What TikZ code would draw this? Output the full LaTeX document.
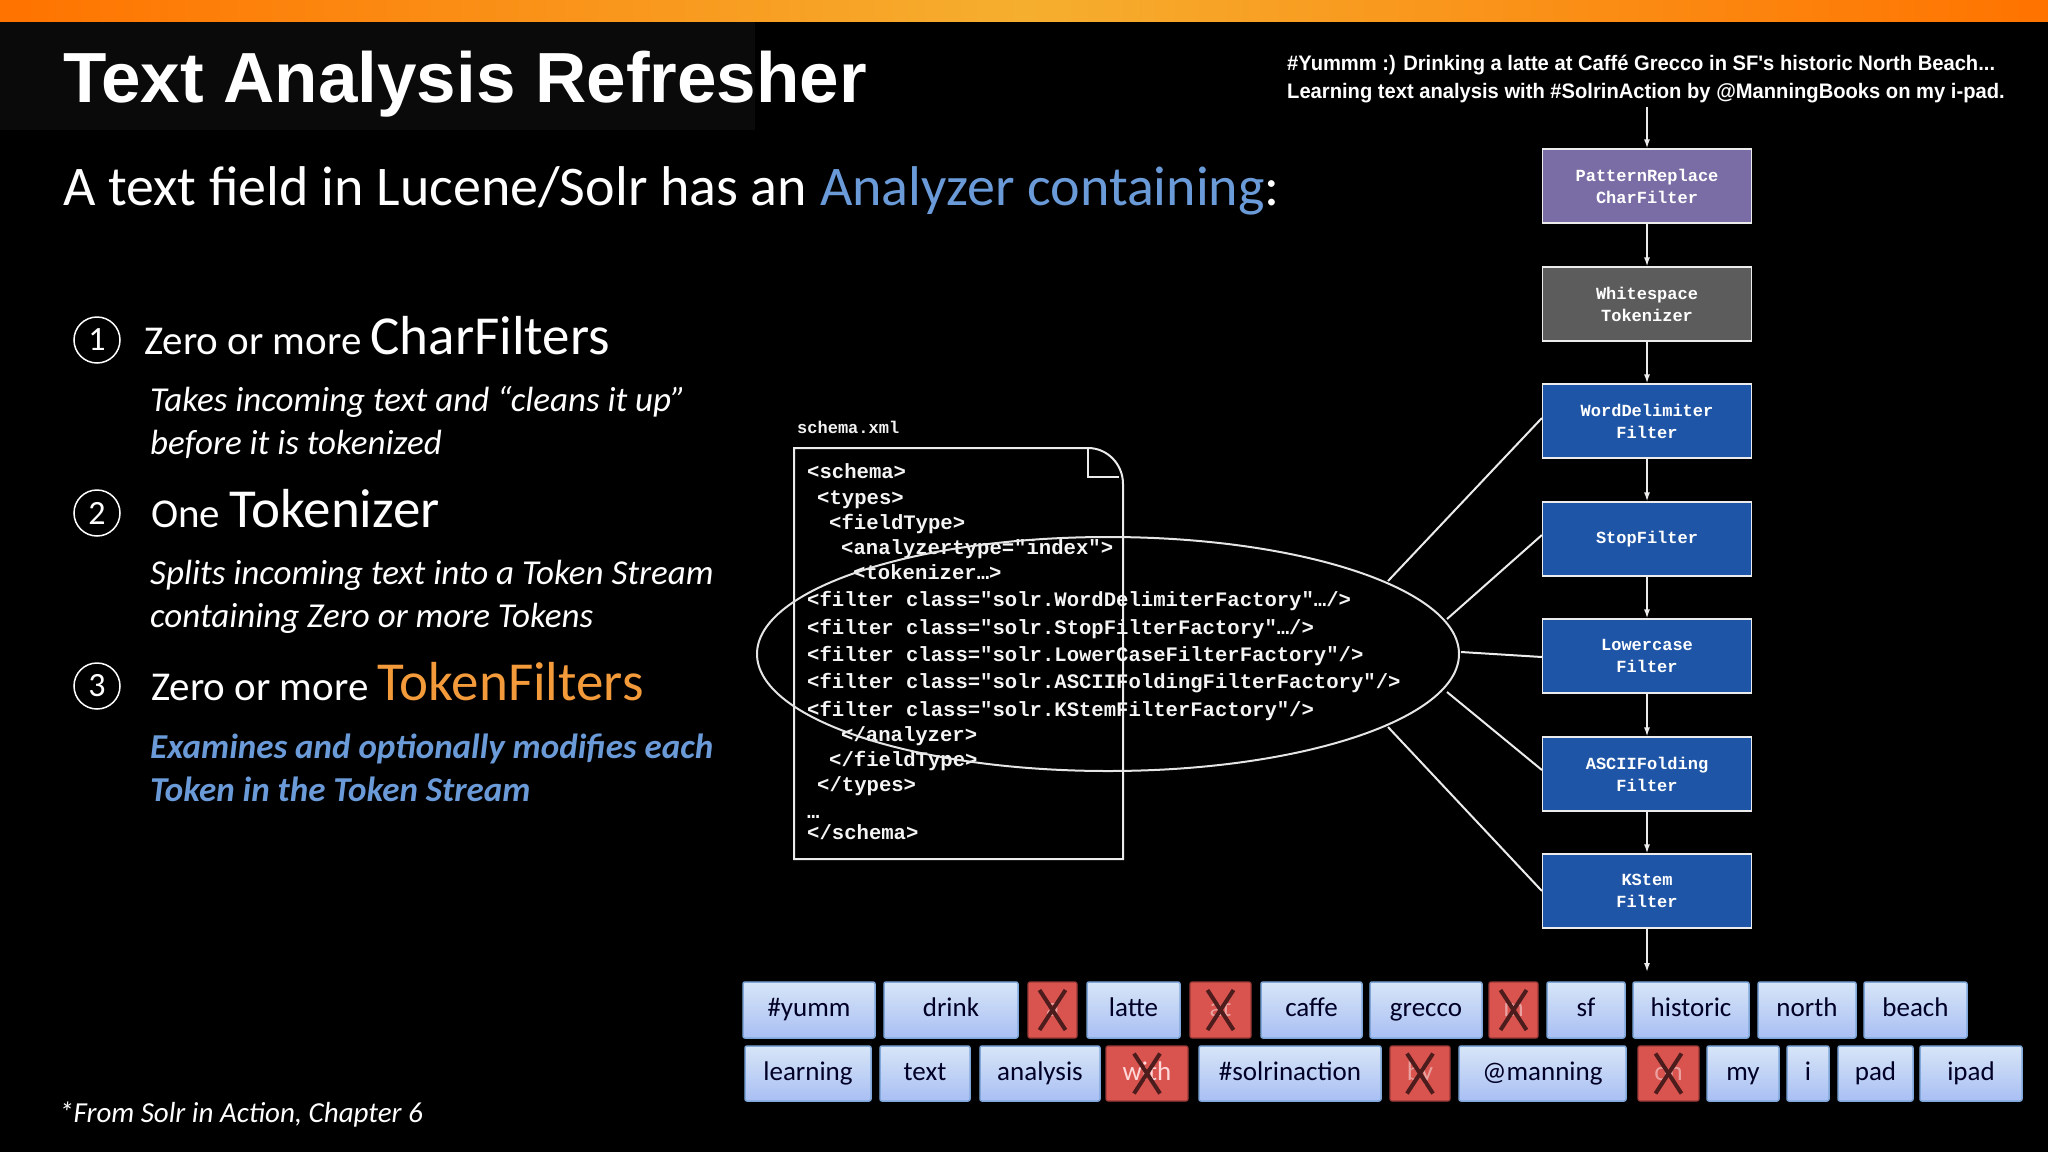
\documentclass[tikz,border=0pt]{standalone}
\usepackage{fontspec}
\setmainfont{Carlito}
\newfontfamily\titlefont{Liberation Sans}
\newfontfamily\codefont{Liberation Mono}
\usetikzlibrary{arrows.meta}
\definecolor{lblue}{HTML}{6A9BD8}
\definecolor{orng}{HTML}{F39A3A}
\definecolor{boxblue}{HTML}{1F55A6}
\definecolor{boxpurple}{HTML}{7A6CA4}
\definecolor{boxgray}{HTML}{5C5C5C}
\definecolor{tokfill}{HTML}{BCD4F2}
\definecolor{tokdraw}{HTML}{7FA7D9}
\definecolor{xred}{HTML}{D9534F}
\tikzset{
  stage/.style={draw=white!85!gray, line width=1.2pt, fill=boxblue, minimum width=209pt, minimum height=74pt, align=center, font=\codefont\bfseries\fontsize{17}{22}\selectfont, text=white},
  flow/.style={draw=white!85!gray, line width=1.5pt, -{Latex[length=9pt,width=6pt]}},
  tok/.style={draw=tokdraw, line width=1.5pt, top color=tokfill!60!white, bottom color=tokfill!90!blue, rounded corners=2pt, inner sep=0pt, text height=18pt, text depth=5pt, font=\fontsize{27}{30}\selectfont, text=black!85!blue},
  stop/.style={draw=xred!70!black, line width=1.2pt, fill=xred, rounded corners=2pt, inner sep=0pt, text height=18pt, text depth=5pt, font=\fontsize{27}{30}\selectfont, text=xred!55!white},
  code/.style={anchor=base west, inner sep=0pt, font=\codefont\bfseries\fontsize{20.6}{24}\selectfont, text=white!92!gray},
  circnum/.style={draw=white, line width=1.5pt, circle, minimum size=46pt, inner sep=0pt, font=\fontsize{34}{36}\selectfont, text=white},
  conn/.style={draw=white!85!gray, line width=2pt},
  head/.style={anchor=base west, inner sep=0pt, text=white, font=\fontsize{41}{44}\selectfont},
  desc/.style={anchor=base west, inner sep=0pt, text=white, align=left, font=\itshape\fontsize{35}{43}\selectfont},
}
\newcommand{\tk}[7]{\node[#1, minimum width=#3pt-#2pt, minimum height=#5pt-#4pt] (#6) at ({(#2+#3)/2},{(#4+#5)/2}) {#7};}
\newcommand{\bigw}{\fontsize{55}{58}\selectfont}
\begin{document}
\begin{tikzpicture}[x=1pt,y=-1pt]
\useasboundingbox (0,0) rectangle (2048,1152);
\fill[black] (0,0) rectangle (2048,1152);
\fill[black!96!white] (0,21) rectangle (755,130);
\shade[left color=orange!90!red, right color=orng!80!yellow] (0,0) rectangle (1024,21);
\shade[left color=orng!80!yellow, right color=orange!90!red] (1024,0) rectangle (2048,21);

% title
\node[anchor=base west, inner sep=0pt, text=white, font=\titlefont\bfseries\fontsize{71}{80}\selectfont] (title) at (63,102) {Text Analysis Refresher};
\node[anchor=base west, inner sep=0pt, text=white, font=\fontsize{56}{60}\selectfont] (sub) at (63,205) {A text field in Lucene/Solr has an \textcolor{lblue}{Analyzer containing}:};

% tweet
\node[anchor=base west, inner sep=0pt, text=white, align=left, font=\titlefont\bfseries\fontsize{21}{28}\selectfont, xscale=0.96, transform shape] (tweet) at (1287,98) {\#Yummm :) Drinking a latte at Caffé Grecco in SF's historic North Beach...\\Learning text analysis with \#SolrinAction by @ManningBooks on my i-pad.};

% items
\node[circnum] (c1) at (97,340) {1};
\node[head] (t1) at (144,354) {Zero or more {\bigw CharFilters}};
\node[desc] (d1) at (150,454) {Takes incoming text and “cleans it up”\\before it is tokenized};
\node[circnum] (c2) at (97,513) {2};
\node[head] (t2) at (151,527) {One {\bigw Tokenizer}};
\node[desc] (d2) at (150,627) {Splits incoming text into a Token Stream\\containing Zero or more Tokens};
\node[circnum] (c3) at (97,686) {3};
\node[head] (t3) at (151,700) {Zero or more \textcolor{orng}{\bigw TokenFilters}};
\node[desc, text=lblue, font=\bfseries\itshape\fontsize{35}{43}\selectfont] (d3) at (150,801) {Examines and optionally modifies each\\Token in the Token Stream};
\node[anchor=base west, inner sep=0pt, text=white, font=\itshape\fontsize{29}{32}\selectfont] (foot) at (59,1122) {*From Solr in Action, Chapter 6};

% pipeline
\coordinate (tw) at (1647,107);
\node[stage, fill=boxpurple] (b1) at (1647,186) {PatternReplace\\CharFilter};
\node[stage, fill=boxgray] (b2) at (1647,304) {Whitespace\\Tokenizer};
\node[stage] (b3) at (1647,421) {WordDelimiter\\Filter};
\node[stage] (b4) at (1647,539) {StopFilter};
\node[stage] (b5) at (1647,656) {Lowercase\\Filter};
\node[stage] (b6) at (1647,774) {ASCIIFolding\\Filter};
\node[stage] (b7) at (1647,891) {KStem\\Filter};
\coordinate (out) at (1647,972);
\draw[flow] (tw) -- (b1);
\draw[flow] (b1) -- (b2);
\draw[flow] (b2) -- (b3);
\draw[flow] (b3) -- (b4);
\draw[flow] (b4) -- (b5);
\draw[flow] (b5) -- (b6);
\draw[flow] (b6) -- (b7);
\draw[flow] (b7) -- (out);

% schema doc
\node[anchor=base west, inner sep=0pt, font=\codefont\bfseries\fontsize{17}{20}\selectfont, text=white!90!gray] (sx) at (797,433) {schema.xml};
\draw[white!85!gray, line width=2pt] (1123,633) -- (1123,859) -- (794,859) -- (794,448) -- (1088,448) to[out=0,in=90] (1123,484) -- (1123,633);
\draw[white!85!gray, line width=2pt] (1088,448) -- (1088,477) -- (1119,477);
\node[code] (l1) at (807,478) {<schema>};
\node[code] (l2) at (817,504) {<types>};
\node[code] (l3) at (829,529) {<fieldType>};
\node[code] (l4) at (841,554) {<analyzertype="index">};
\node[code] (l5) at (853,579) {<tokenizer…>};
\node[code] (l6) at (807,606) {<filter class="solr.WordDelimiterFactory"…/>};
\node[code] (l7) at (807,634) {<filter class="solr.StopFilterFactory"…/>};
\node[code] (l8) at (807,661) {<filter class="solr.LowerCaseFilterFactory"/>};
\node[code] (l9) at (807,688) {<filter class="solr.ASCIIFoldingFilterFactory"/>};
\node[code] (l10) at (807,716) {<filter class="solr.KStemFilterFactory"/>};
\node[code] (l11) at (841,741) {</analyzer>};
\node[code] (l12) at (829,766) {</fieldType>};
\node[code] (l13) at (817,791) {</types>};
\node[code] (l14) at (807,818) {…};
\node[code] (l15) at (807,839) {</schema>};
\draw[white!80!gray, line width=2pt] (1108,654) ellipse [x radius=351, y radius=117];
\coordinate (e1) at (1388,581);
\coordinate (e2) at (1447,619);
\coordinate (e3) at (1461,652);
\coordinate (e4) at (1447,692);
\coordinate (e5) at (1388,727);
\draw[conn] (e1) -- (b3.west |- 0,418);
\draw[conn] (e2) -- (b4.west |- 0,535);
\draw[conn] (e3) -- (b5.west |- 0,657);
\draw[conn] (e4) -- (b6.west |- 0,770);
\draw[conn] (e5) -- (b7.west |- 0,891);

% tokens row 1
\tk{tok}{743}{875}{982}{1038}{r1}{\#yumm}
\tk{tok}{884}{1018}{982}{1038}{r2}{drink}
\tk{stop}{1028}{1077}{982}{1038}{r3}{a}
\tk{tok}{1087}{1180}{982}{1038}{r4}{latte}
\tk{stop}{1190}{1251}{982}{1038}{r5}{at}
\tk{tok}{1261}{1362}{982}{1038}{r6}{caffe}
\tk{tok}{1370}{1482}{982}{1038}{r7}{grecco}
\tk{stop}{1489}{1538}{982}{1038}{r8}{in}
\tk{tok}{1547}{1625}{982}{1038}{r9}{sf}
\tk{tok}{1633}{1749}{982}{1038}{r10}{historic}
\tk{tok}{1758}{1856}{982}{1038}{r11}{north}
\tk{tok}{1864}{1967}{982}{1038}{r12}{beach}
% row 2
\tk{tok}{745}{871}{1046}{1101}{s1}{learning}
\tk{tok}{880}{970}{1046}{1101}{s2}{text}
\tk{tok}{980}{1100}{1046}{1101}{s3}{analysis}
\tk{stop, text=white!85!red}{1106}{1188}{1046}{1101}{s4}{with}
\tk{tok}{1199}{1381}{1046}{1101}{s5}{\#solrinaction}
\tk{stop}{1390}{1450}{1046}{1101}{s6}{by}
\tk{tok}{1459}{1626}{1046}{1101}{s7}{@manning}
\tk{stop}{1638}{1699}{1046}{1101}{s8}{on}
\tk{tok}{1707}{1779}{1046}{1101}{s9}{my}
\tk{tok}{1787}{1829}{1046}{1101}{s10}{i}
\tk{tok}{1838}{1913}{1046}{1101}{s11}{pad}
\tk{tok}{1920}{2022}{1046}{1101}{s12}{ipad}
\foreach \n in {r3,r5,r8,s4,s6,s8}{
  \draw[xred!35!black, line width=4pt] ([shift={(-13,-20)}]\n.center) -- ([shift={(13,20)}]\n.center);
  \draw[xred!35!black, line width=4pt] ([shift={(13,-20)}]\n.center) -- ([shift={(-13,20)}]\n.center);
}
\end{tikzpicture}
\end{document}
